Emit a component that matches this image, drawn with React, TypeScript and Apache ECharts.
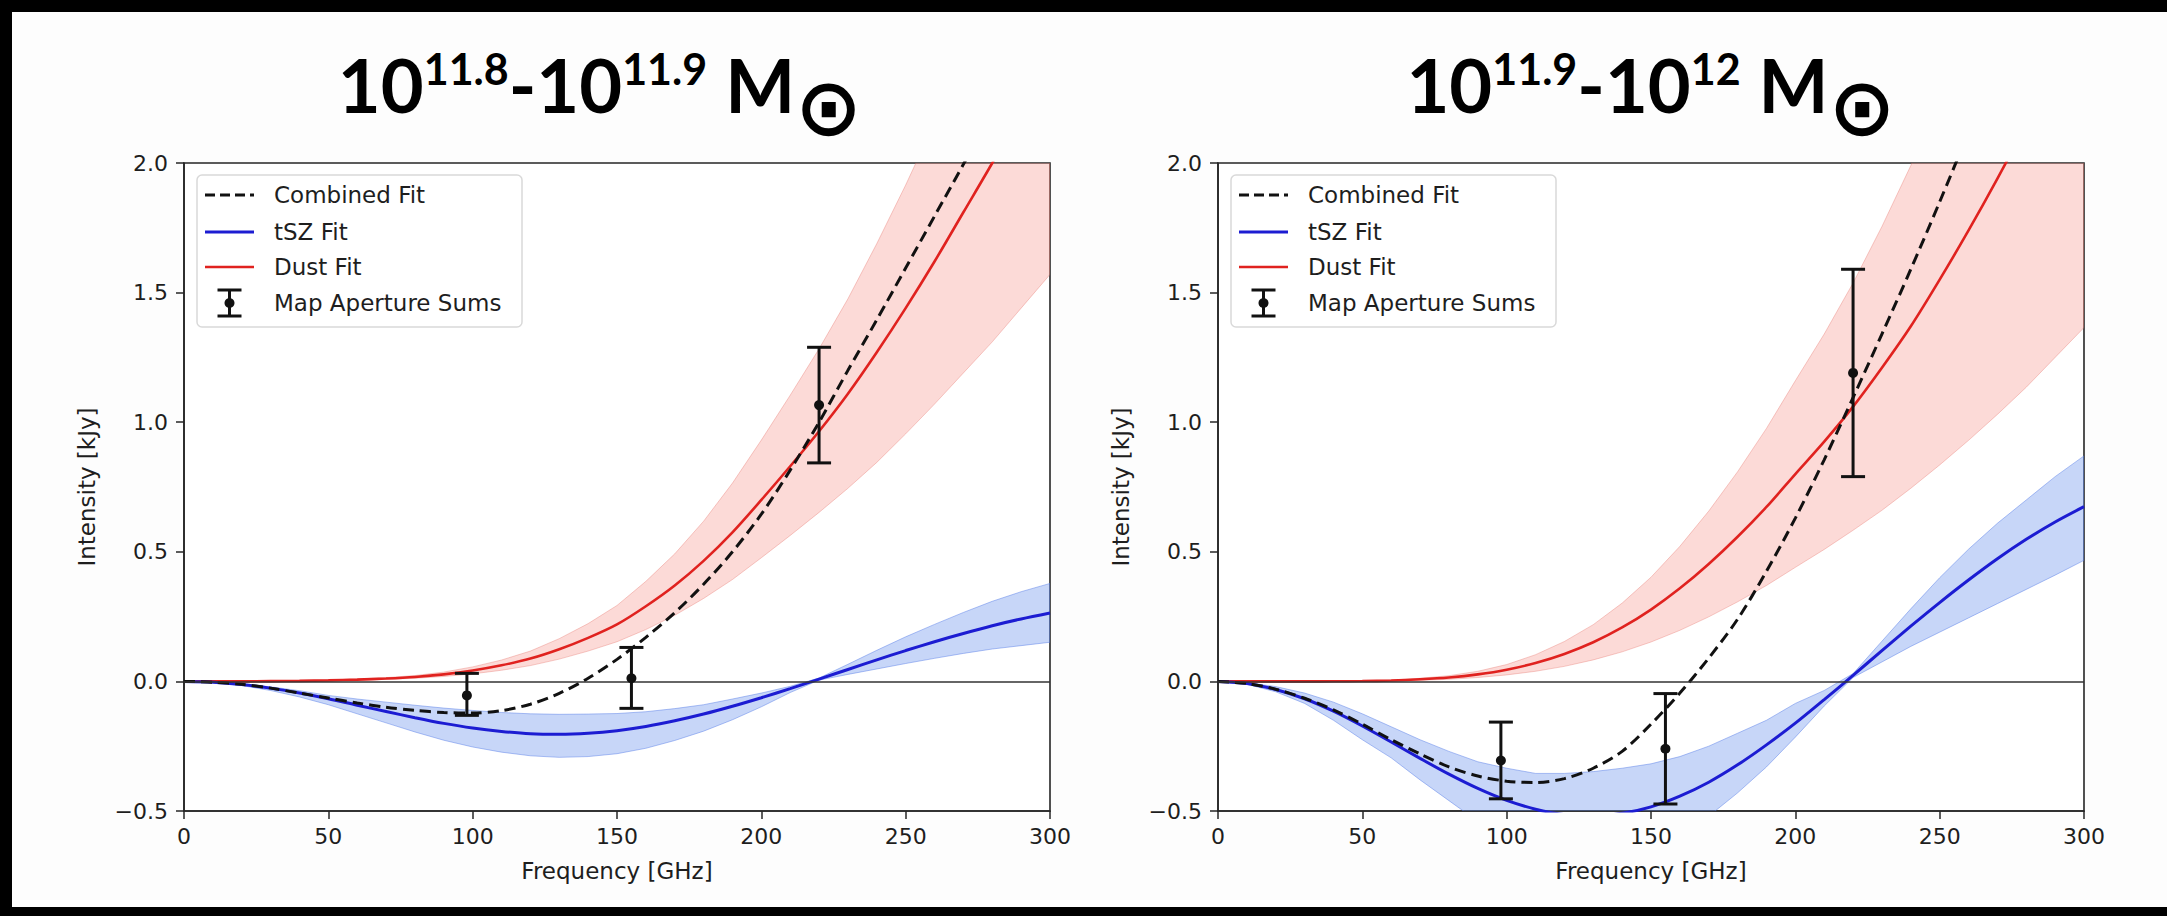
import React, { useEffect, useRef } from "react";
import * as echarts from "echarts";

// ---------------- data ----------------
const freqGHz = [0, 10, 20, 30, 40, 50, 60, 70, 80, 90, 100, 110, 120, 130, 140, 150, 160, 170, 180, 190, 200, 210, 220, 230, 240, 250, 260, 270, 280, 290, 300];

// left panel: 10^11.8 - 10^11.9
const leftCombined = [0, -0.003, -0.011, -0.026, -0.045, -0.064, -0.083, -0.1, -0.112, -0.12, -0.122, -0.113, -0.088, -0.046, 0.012, 0.085, 0.17, 0.265, 0.375, 0.5, 0.645, 0.815, 1.0, 1.2, 1.395, 1.595, 1.795, 1.995, 2.2, 2.4, 2.6];
const leftTsz = [0, -0.003, -0.012, -0.026, -0.045, -0.067, -0.092, -0.116, -0.14, -0.162, -0.18, -0.193, -0.202, -0.204, -0.2, -0.19, -0.174, -0.152, -0.126, -0.096, -0.063, -0.028, 0.009, 0.046, 0.083, 0.119, 0.153, 0.185, 0.215, 0.241, 0.264];
const leftTszLow = [0, -0.004, -0.016, -0.035, -0.06, -0.09, -0.125, -0.16, -0.195, -0.227, -0.253, -0.273, -0.287, -0.293, -0.29, -0.279, -0.258, -0.228, -0.192, -0.148, -0.098, -0.043, 0.005, 0.027, 0.048, 0.069, 0.089, 0.108, 0.125, 0.138, 0.151];
const leftTszHigh = [0, -0.002, -0.01, -0.021, -0.036, -0.054, -0.068, -0.08, -0.092, -0.103, -0.112, -0.12, -0.125, -0.127, -0.126, -0.124, -0.117, -0.105, -0.09, -0.068, -0.045, -0.019, 0.013, 0.066, 0.12, 0.172, 0.22, 0.266, 0.309, 0.346, 0.378];
const leftDust = [0, 0, 0, 0.001, 0.002, 0.004, 0.007, 0.011, 0.017, 0.027, 0.042, 0.062, 0.088, 0.124, 0.168, 0.22, 0.29, 0.37, 0.465, 0.575, 0.7, 0.83, 0.965, 1.11, 1.27, 1.44, 1.62, 1.81, 2.0, 2.2, 2.4];
const leftDustLow = [0, 0, 0, 0.0007, 0.0014, 0.003, 0.005, 0.008, 0.012, 0.019, 0.029, 0.043, 0.061, 0.086, 0.117, 0.153, 0.2, 0.255, 0.32, 0.393, 0.477, 0.563, 0.652, 0.745, 0.845, 0.955, 1.07, 1.19, 1.31, 1.44, 1.57];
const leftDustHigh = [0, 0, 0, 0.0013, 0.0027, 0.0053, 0.0093, 0.0146, 0.0226, 0.036, 0.056, 0.0825, 0.117, 0.165, 0.223, 0.293, 0.386, 0.492, 0.618, 0.765, 0.931, 1.104, 1.283, 1.476, 1.689, 1.915, 2.155, 2.407, 2.66, 2.926, 3.192];

// right panel: 10^11.9 - 10^12
const rightCombined = [0, -0.008, -0.03, -0.065, -0.11, -0.165, -0.225, -0.28, -0.33, -0.365, -0.385, -0.39, -0.375, -0.335, -0.27, -0.165, -0.045, 0.09, 0.24, 0.425, 0.63, 0.855, 1.095, 1.34, 1.59, 1.85, 2.12, 2.4, 2.68, 2.96, 3.25];
const rightTsz = [0, -0.008, -0.031, -0.067, -0.115, -0.172, -0.234, -0.297, -0.358, -0.413, -0.459, -0.493, -0.514, -0.519, -0.509, -0.484, -0.443, -0.389, -0.322, -0.245, -0.161, -0.07, 0.023, 0.119, 0.213, 0.304, 0.391, 0.473, 0.548, 0.615, 0.674];
const rightTszLow = [0, -0.011, -0.04, -0.085, -0.15, -0.225, -0.295, -0.38, -0.46, -0.54, -0.61, -0.66, -0.69, -0.695, -0.68, -0.645, -0.59, -0.52, -0.43, -0.33, -0.215, -0.095, 0.015, 0.075, 0.135, 0.19, 0.245, 0.3, 0.355, 0.41, 0.467];
const rightTszHigh = [0, -0.005, -0.02, -0.045, -0.08, -0.125, -0.175, -0.225, -0.27, -0.31, -0.335, -0.355, -0.355, -0.348, -0.335, -0.318, -0.29, -0.25, -0.2, -0.15, -0.085, -0.035, 0.03, 0.155, 0.28, 0.4, 0.51, 0.61, 0.7, 0.79, 0.87];
const rightDust = [0, 0, 0, 0.0001, 0.0004, 0.0013, 0.0035, 0.008, 0.015, 0.027, 0.045, 0.071, 0.106, 0.151, 0.208, 0.277, 0.359, 0.453, 0.558, 0.673, 0.8, 0.925, 1.06, 1.21, 1.37, 1.55, 1.74, 1.94, 2.15, 2.38, 2.62];
const rightDustLow = [0, 0, 0, 0.0001, 0.0002, 0.0007, 0.002, 0.0044, 0.008, 0.015, 0.025, 0.039, 0.058, 0.083, 0.114, 0.152, 0.197, 0.249, 0.307, 0.37, 0.44, 0.509, 0.583, 0.66, 0.745, 0.835, 0.93, 1.03, 1.135, 1.25, 1.365];
const rightDustHigh = [0, 0, 0, 0.0002, 0.0006, 0.002, 0.005, 0.012, 0.022, 0.039, 0.065, 0.103, 0.154, 0.219, 0.302, 0.402, 0.521, 0.657, 0.809, 0.976, 1.16, 1.34, 1.537, 1.755, 1.99, 2.25, 2.52, 2.81, 3.12, 3.45, 3.8];

// map aperture sums (error bars)
const pointFreq = [98, 155, 220];
const leftPoint = [-0.054, 0.012, 1.066];
const leftPointLow = [-0.131, -0.104, 0.843];
const leftPointHigh = [0.031, 0.131, 1.289];
const rightPoint = [-0.305, -0.26, 1.19];
const rightPointLow = [-0.453, -0.473, 0.79];
const rightPointHigh = [-0.157, -0.047, 1.59];

// texts
const leftTitle = ["10", "11.8", "-10", "11.9", " M", "⊙"];
const rightTitle = ["10", "11.9", "-10", "12", " M", "⊙"];
const legendLabels = ["Combined Fit", "tSZ Fit", "Dust Fit", "Map Aperture Sums"];
const xAxisName = "Frequency [GHz]";
const yAxisName = "Intensity [kJy]";

// ---------------- styles ----------------
const FONT = "'DejaVu Sans', Verdana, sans-serif";
const TXT = "#1e1e1e";
const RED = "#e0221f";
const BLUE = "#1c1cd2";
const BLACK = "#111111";
const RED_BAND = "rgba(245,150,140,0.35)";
const RED_EDGE = "rgba(230,110,100,0.35)";
const BLUE_BAND = "rgba(100,140,235,0.36)";
const BLUE_EDGE = "rgba(80,120,230,0.45)";

const GRID_TOP = 163;
const GRID_H = 648;
const GRID_W = 866;
const GRID_LEFTS = [184, 1218];

function pairs(arr: number[]) {
  return freqGHz.map((f, i) => [f, arr[i]]);
}

function bandSeries(idx: number, low: number[], high: number[], fill: string, stroke: string) {
  return {
    type: "custom",
    xAxisIndex: idx,
    yAxisIndex: idx,
    clip: true,
    silent: true,
    z: 1,
    data: [[0, 0]],
    renderItem: (_p: any, api: any) => {
      const pts: number[][] = [];
      for (let i = 0; i < freqGHz.length; i++) pts.push(api.coord([freqGHz[i], high[i]]));
      for (let i = freqGHz.length - 1; i >= 0; i--) pts.push(api.coord([freqGHz[i], low[i]]));
      return {
        type: "polygon",
        shape: { points: pts },
        style: { fill, stroke, lineWidth: 1 },
      };
    },
  };
}

function lineSeries(idx: number, arr: number[], color: string, width: number, dashed: boolean, z: number, extra: any = {}) {
  return {
    type: "line",
    xAxisIndex: idx,
    yAxisIndex: idx,
    data: pairs(arr),
    showSymbol: false,
    symbol: "none",
    smooth: 0.3,
    silent: true,
    z,
    lineStyle: { color, width, type: dashed ? [11, 6] : "solid", cap: "butt" },
    ...extra,
  };
}

function errorSeries(idx: number, val: number[], lo: number[], hi: number[]) {
  return {
    type: "custom",
    xAxisIndex: idx,
    yAxisIndex: idx,
    silent: true,
    z: 6,
    data: pointFreq.map((f, i) => [f, val[i], lo[i], hi[i]]),
    renderItem: (_p: any, api: any) => {
      const x = api.value(0);
      const p = api.coord([x, api.value(1)]);
      const l = api.coord([x, api.value(2)]);
      const h = api.coord([x, api.value(3)]);
      const cw = 12;
      const st = { stroke: BLACK, lineWidth: 3 };
      return {
        type: "group",
        children: [
          { type: "line", shape: { x1: p[0], y1: l[1], x2: p[0], y2: h[1] }, style: st },
          { type: "line", shape: { x1: p[0] - cw, y1: l[1], x2: p[0] + cw, y2: l[1] }, style: st },
          { type: "line", shape: { x1: p[0] - cw, y1: h[1], x2: p[0] + cw, y2: h[1] }, style: st },
          { type: "circle", shape: { cx: p[0], cy: p[1], r: 5 }, style: { fill: BLACK } },
        ],
      };
    },
  };
}

function titleText(parts: string[], cx: number) {
  return {
    type: "text",
    x: cx,
    y: 47,
    z: 20,
    style: {
      text: `{m|${parts[0]}}{s|${parts[1]}}{m|${parts[2]}}{s|${parts[3]}}{m|${parts[4]}}{o|${parts[5]}}`,
      align: "center",
      verticalAlign: "top",
      rich: {
        m: { fontFamily: "Lato, 'Open Sans', sans-serif", fontWeight: "bold", fontSize: 74, lineHeight: 80, verticalAlign: "top", fill: "#000" },
        s: { fontFamily: "Lato, 'Open Sans', sans-serif", fontWeight: "bold", fontSize: 43, lineHeight: 54, verticalAlign: "top", fill: "#000" },
        o: { fontFamily: "'DejaVu Sans', sans-serif", fontWeight: "bold", fontSize: 80, lineHeight: 100, verticalAlign: "bottom", fill: "#000" },
      },
    },
  };
}

function legendGraphics(dx: number) {
  const x0 = 197 + dx;
  const rows = [195, 232, 267, 303];
  const lx1 = 205 + dx;
  const lx2 = 254 + dx;
  const tx = 274 + dx;
  const cx = 229.5 + dx;
  const els: any[] = [
    {
      type: "rect",
      z: 15,
      shape: { x: x0, y: 175, width: 325, height: 152, r: 5 },
      style: { fill: "rgba(255,255,255,0.85)", stroke: "#d9d9d9", lineWidth: 1.5 },
    },
    { type: "line", z: 16, shape: { x1: lx1, y1: rows[0], x2: lx2, y2: rows[0] }, style: { stroke: BLACK, lineWidth: 3, lineDash: [10, 5] } },
    { type: "line", z: 16, shape: { x1: lx1, y1: rows[1], x2: lx2, y2: rows[1] }, style: { stroke: BLUE, lineWidth: 3 } },
    { type: "line", z: 16, shape: { x1: lx1, y1: rows[2], x2: lx2, y2: rows[2] }, style: { stroke: RED, lineWidth: 2.5 } },
    { type: "line", z: 16, shape: { x1: cx, y1: rows[3] - 13, x2: cx, y2: rows[3] + 13 }, style: { stroke: BLACK, lineWidth: 3 } },
    { type: "line", z: 16, shape: { x1: cx - 12, y1: rows[3] - 13, x2: cx + 12, y2: rows[3] - 13 }, style: { stroke: BLACK, lineWidth: 3 } },
    { type: "line", z: 16, shape: { x1: cx - 12, y1: rows[3] + 13, x2: cx + 12, y2: rows[3] + 13 }, style: { stroke: BLACK, lineWidth: 3 } },
    { type: "circle", z: 16, shape: { cx, cy: rows[3], r: 5 }, style: { fill: BLACK } },
  ];
  legendLabels.forEach((lab, i) => {
    els.push({
      type: "text",
      z: 16,
      x: tx,
      y: rows[i],
      style: { text: lab, font: `23px ${FONT}`, fill: TXT, align: "left", verticalAlign: "middle" },
    });
  });
  return els;
}

function buildOption() {
  const yFmt = (v: number) => (v < 0 ? "\u2212" + Math.abs(v).toFixed(1) : v.toFixed(1));
  const grids = GRID_LEFTS.map((l) => ({
    left: l,
    top: GRID_TOP,
    width: GRID_W,
    height: GRID_H,
    show: true,
    backgroundColor: "#ffffff",
    borderColor: "#262626",
    borderWidth: 1.6,
  }));
  const xAxes = GRID_LEFTS.map((_, i) => ({
    gridIndex: i,
    type: "value",
    min: 0,
    max: 300,
    interval: 50,
    name: xAxisName,
    nameLocation: "middle",
    nameGap: 48,
    nameTextStyle: { fontFamily: FONT, fontSize: 23, color: TXT },
    axisLine: { show: true, onZero: false, lineStyle: { color: "#262626", width: 1.6 } },
    axisTick: { show: true, inside: false, length: 8, lineStyle: { color: "#262626", width: 1.5 } },
    axisLabel: { fontFamily: FONT, fontSize: 22, color: TXT, margin: 14 },
    splitLine: { show: false },
  }));
  const yAxes = GRID_LEFTS.map((_, i) => ({
    gridIndex: i,
    type: "value",
    min: -0.5,
    max: 2.0,
    interval: 0.5,
    name: yAxisName,
    nameLocation: "middle",
    nameRotate: 90,
    nameGap: 86,
    nameTextStyle: { fontFamily: FONT, fontSize: 23, color: TXT },
    axisLine: { show: true, onZero: false, lineStyle: { color: "#262626", width: 1.6 } },
    axisTick: { show: true, inside: false, length: 8, lineStyle: { color: "#262626", width: 1.5 } },
    axisLabel: { fontFamily: FONT, fontSize: 22, color: TXT, margin: 16, formatter: yFmt },
    splitLine: { show: false },
  }));

  const zeroLine = {
    markLine: {
      silent: true,
      symbol: "none",
      label: { show: false },
      lineStyle: { color: "#333333", width: 1.6, type: "solid" },
      data: [{ yAxis: 0 }],
    },
  };

  const series: any[] = [
    bandSeries(0, leftDustLow, leftDustHigh, RED_BAND, RED_EDGE),
    bandSeries(0, leftTszLow, leftTszHigh, BLUE_BAND, BLUE_EDGE),
    lineSeries(0, leftDust, RED, 2.6, false, 3, zeroLine),
    lineSeries(0, leftTsz, BLUE, 3, false, 3),
    lineSeries(0, leftCombined, BLACK, 3, true, 4),
    errorSeries(0, leftPoint, leftPointLow, leftPointHigh),
    bandSeries(1, rightDustLow, rightDustHigh, RED_BAND, RED_EDGE),
    bandSeries(1, rightTszLow, rightTszHigh, BLUE_BAND, BLUE_EDGE),
    lineSeries(1, rightDust, RED, 2.6, false, 3, zeroLine),
    lineSeries(1, rightTsz, BLUE, 3, false, 3),
    lineSeries(1, rightCombined, BLACK, 3, true, 4),
    errorSeries(1, rightPoint, rightPointLow, rightPointHigh),
  ];

  const graphic: any[] = [
    titleText(leftTitle, 600),
    titleText(rightTitle, 1651),
    ...legendGraphics(0),
    ...legendGraphics(GRID_LEFTS[1] - GRID_LEFTS[0]),
    { type: "rect", z: 30, shape: { x: 0, y: 0, width: 2167, height: 12 }, style: { fill: "#000" } },
    { type: "rect", z: 30, shape: { x: 0, y: 0, width: 12, height: 916 }, style: { fill: "#000" } },
    { type: "rect", z: 30, shape: { x: 0, y: 907, width: 2167, height: 9 }, style: { fill: "#000" } },
  ];

  return {
    animation: false,
    backgroundColor: "#fdfdfd",
    grid: grids,
    xAxis: xAxes,
    yAxis: yAxes,
    series,
    graphic,
  };
}

export default function App() {
  const ref = useRef<HTMLDivElement>(null);
  useEffect(() => {
    if (!ref.current) return;
    const chart = echarts.init(ref.current, undefined, { renderer: "svg" });
    chart.setOption(buildOption() as any);
    return () => chart.dispose();
  }, []);
  return (
    <div
      ref={ref}
      style={{ position: "fixed", left: 0, top: 0, width: 2167, height: 916 }}
    />
  );
}
